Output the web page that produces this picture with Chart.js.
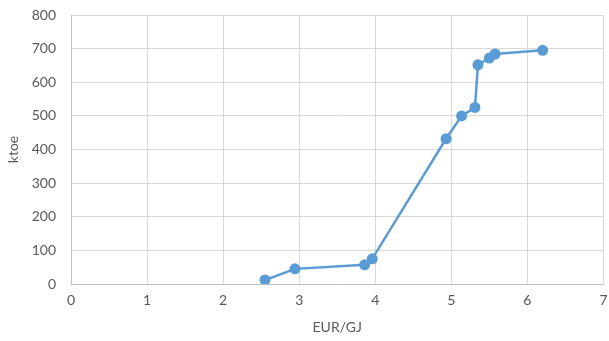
<!DOCTYPE html>
<html>
<head>
<meta charset="utf-8">
<script src="https://cdn.jsdelivr.net/npm/chart.js@4"></script>
<style>
  html, body { margin: 0; padding: 0; background: #ffffff; }
  #wrap { width: 609px; height: 341px; }
</style>
</head>
<body>
<div id="wrap"><canvas id="chart" width="609" height="341"></canvas></div>
<script>
// Supply curve: price (EUR/GJ) against cumulative quantity (ktoe)
const priceEurPerGJ = [2.55, 2.945, 3.86, 3.96, 4.93, 5.135, 5.31, 5.35, 5.50, 5.575, 6.20];
const quantityKtoe  = [12, 45, 57, 75, 432, 500, 525, 652, 672, 684, 695];
const xTicks = [0, 1, 2, 3, 4, 5, 6, 7];
const yTicks = [0, 100, 200, 300, 400, 500, 600, 700, 800];

const points = priceEurPerGJ.map((x, i) => ({ x: x, y: quantityKtoe[i] }));

const textColor = '#595959';
const gridColor = '#d9d9d9';
const fontFamily = 'Lato, "Open Sans", sans-serif';

new Chart(document.getElementById('chart'), {
  type: 'scatter',
  data: {
    datasets: [{
      data: points,
      showLine: true,
      borderColor: '#5b9bd5',
      backgroundColor: '#5b9bd5',
      borderWidth: 2.5,
      pointRadius: 5.5,
      pointHoverRadius: 5.5,
      pointBorderWidth: 0,
      tension: 0
    }]
  },
  options: {
    responsive: false,
    animation: false,
    layout: { padding: { top: 15, right: 3, left: 0, bottom: 0 } },
    plugins: { legend: { display: false }, tooltip: { enabled: false } },
    scales: {
      x: {
        type: 'linear',
        min: xTicks[0],
        max: xTicks[xTicks.length - 1],
        afterBuildTicks: s => { s.ticks = xTicks.map(v => ({ value: v })); },
        afterFit: s => { s.height = 57; s.paddingRight = 0; s.paddingLeft = 0; },
        grid: { color: gridColor, lineWidth: 1, drawTicks: false },
        border: { color: '#bfbfbf', width: 1 },
        ticks: { color: textColor, font: { family: fontFamily, size: 14 }, padding: 8, maxRotation: 0 },
        title: { display: true, text: 'EUR/GJ', color: textColor, font: { family: fontFamily, size: 14 }, padding: { top: 6, bottom: 5 } }
      },
      y: {
        type: 'linear',
        min: yTicks[0],
        max: yTicks[yTicks.length - 1],
        afterBuildTicks: s => { s.ticks = yTicks.map(v => ({ value: v })); },
        afterFit: s => { s.width = 71; s.paddingTop = 0; s.paddingBottom = 0; },
        grid: { color: gridColor, lineWidth: 1, drawTicks: false },
        border: { color: '#bfbfbf', width: 1 },
        ticks: { color: textColor, font: { family: fontFamily, size: 14 }, padding: 15 },
        title: { display: true, text: 'ktoe', color: textColor, font: { family: fontFamily, size: 14 }, padding: { top: 5, bottom: 0 } }
      }
    }
  }
});
</script>
</body>
</html>
